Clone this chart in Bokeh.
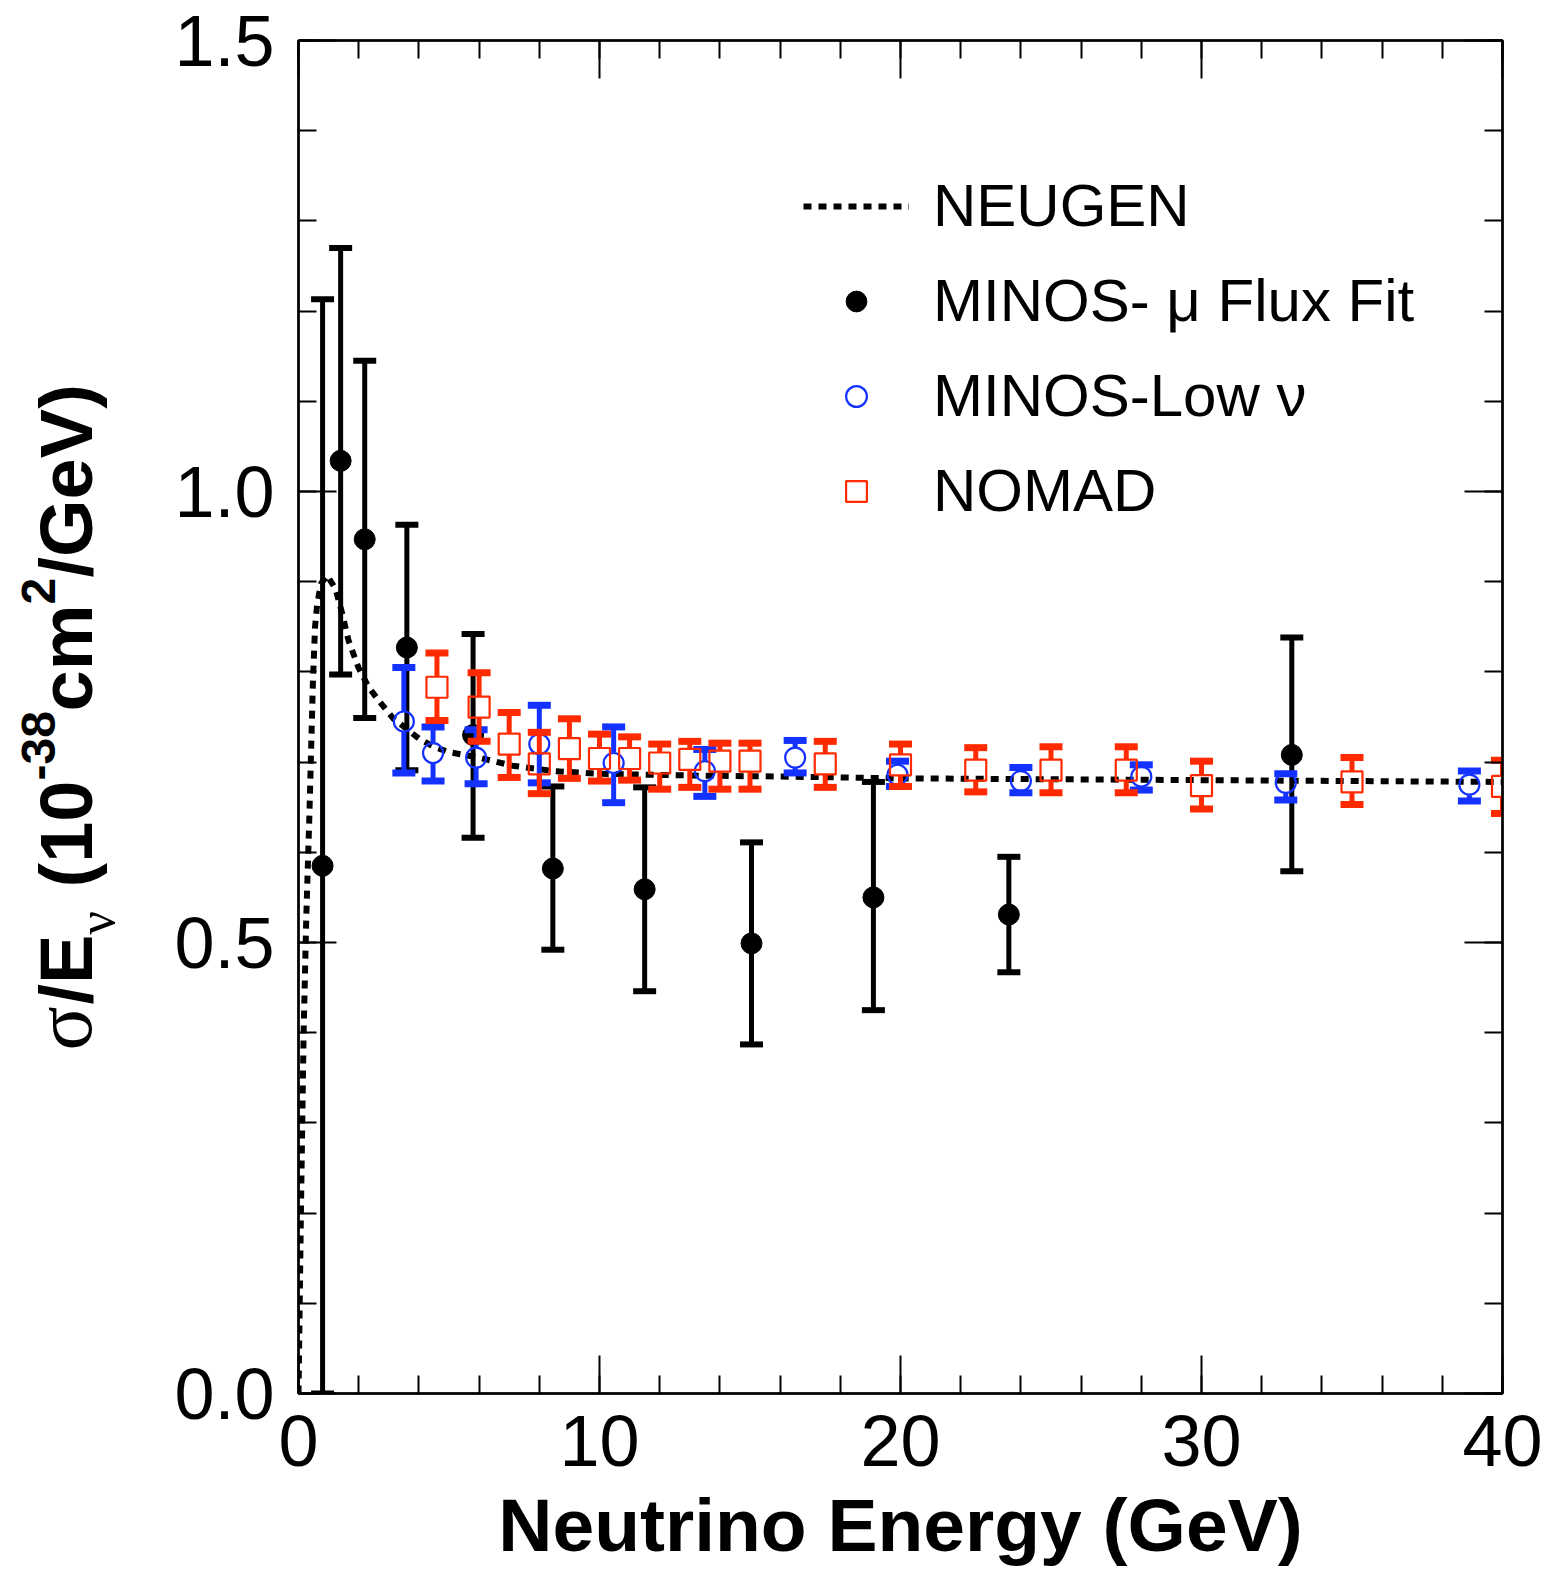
from bokeh.plotting import figure
from bokeh.layouts import row
from bokeh.models import (LinearAxis, SingleIntervalTicker, PrintfTickFormatter,
                          Legend, LegendItem, Range1d)
from bokeh.core.properties import value
from bokeh.embed import file_html
from bokeh.resources import INLINE

# ---------------- data ----------------
# NEUGEN prediction (dotted curve)
neugen_E = [0.0, 0.08, 0.17, 0.26, 0.36, 0.48, 0.55, 0.62, 0.75, 0.95, 1.23, 1.45, 1.66,
            1.99, 2.33, 2.72, 3.16, 3.55, 4.0, 4.5, 5.0, 6.0, 7.1, 8.5, 10.0, 13.3, 16.0,
            20.0, 25.0, 30.0, 35.0, 40.0]
neugen_y = [0.0, 0.20, 0.40, 0.53, 0.639, 0.79, 0.85, 0.875, 0.898, 0.907, 0.892, 0.865,
            0.835, 0.805, 0.783, 0.766, 0.748, 0.738, 0.726, 0.717, 0.711, 0.705, 0.696,
            0.690, 0.687, 0.685, 0.684, 0.682, 0.681, 0.680, 0.679, 0.678]

# MINOS - mu flux fit (black filled circles)
mu_E = [0.8, 1.4, 2.2, 3.6, 5.8, 8.45, 11.5, 15.05, 19.1, 23.6, 33.0]
mu_y = [0.585, 1.034, 0.947, 0.827, 0.730, 0.582, 0.559, 0.499, 0.550, 0.531, 0.708]
mu_hi = [1.213, 1.270, 1.145, 0.963, 0.842, 0.673, 0.672, 0.611, 0.678, 0.595, 0.838]
mu_lo = [0.000, 0.797, 0.749, 0.691, 0.616, 0.492, 0.446, 0.387, 0.425, 0.467, 0.579]

# MINOS - Low nu (blue open circles)
lown_E = [3.5, 4.47, 5.9, 8.0, 10.47, 13.5, 16.5, 19.9, 24.0, 28.0, 32.8, 38.9]
lown_y = [0.745, 0.710, 0.705, 0.720, 0.699, 0.690, 0.705, 0.686, 0.679, 0.684, 0.677, 0.675]
lown_hi = [0.805, 0.739, 0.736, 0.763, 0.739, 0.714, 0.724, 0.701, 0.694, 0.697, 0.687, 0.690]
lown_lo = [0.688, 0.679, 0.676, 0.677, 0.655, 0.662, 0.688, 0.673, 0.666, 0.669, 0.658, 0.657]

# NOMAD (red open squares)
nomad_E = [4.6, 6.0, 7.0, 8.0, 9.0, 10.0, 11.0, 12.0, 13.0, 14.0, 15.0, 17.5, 20.0, 22.5,
           25.0, 27.5, 30.0, 35.0, 40.0]
nomad_y = [0.783, 0.761, 0.720, 0.698, 0.715, 0.704, 0.704, 0.699, 0.703, 0.701, 0.701,
           0.698, 0.697, 0.691, 0.691, 0.691, 0.674, 0.678, 0.673]
nomad_hi = [0.821, 0.799, 0.755, 0.733, 0.748, 0.731, 0.728, 0.720, 0.723, 0.721, 0.721,
            0.723, 0.720, 0.716, 0.717, 0.717, 0.701, 0.705, 0.702]
nomad_lo = [0.746, 0.723, 0.683, 0.665, 0.682, 0.679, 0.680, 0.670, 0.672, 0.670, 0.670,
            0.672, 0.673, 0.667, 0.666, 0.666, 0.648, 0.653, 0.643]

legend_labels = ["NEUGEN", "MINOS- \u03bc Flux Fit", "MINOS-Low \u03bd", "NOMAD"]
x_title = "Neutrino Energy (GeV)"
x_ticks_interval = 10
y_ticks_interval = 0.5

BLACK = "black"
BLUE = "#1432FF"
RED = "#FF2A00"
SANS = "Liberation Sans"
SERIF = "Liberation Serif"

# ---------------- geometry ----------------
FW, FH = 1204, 1353
TOP, BOTTOM, RIGHT = 40, 179, 56
LEFT_W = 150
CH = TOP + FH + BOTTOM

# ---------------- main figure ----------------
p = figure(frame_width=FW, frame_height=FH, x_range=Range1d(0, 40), y_range=Range1d(0, 1.5),
           output_backend="svg", toolbar_location=None,
           min_border_left=298 - LEFT_W, min_border_right=RIGHT, min_border_top=TOP,
           min_border_bottom=BOTTOM)
p.xgrid.visible = False
p.ygrid.visible = False
p.outline_line_color = "black"
p.outline_line_width = 2
p.background_fill_color = "white"
p.border_fill_color = "white"


def style_axis(ax, labels=True):
    ax.axis_line_width = 2.5
    ax.axis_line_color = "black"
    ax.major_tick_in = 38
    ax.major_tick_out = 0
    ax.minor_tick_in = 18
    ax.minor_tick_out = 0
    ax.major_tick_line_width = 2
    ax.minor_tick_line_width = 2
    ax.major_tick_line_color = "black"
    ax.minor_tick_line_color = "black"
    if labels:
        ax.major_label_text_font = SANS
        ax.major_label_text_font_size = "72px"
        ax.major_label_text_color = "black"
    else:
        ax.major_label_text_font_size = "1px"
        ax.major_label_text_alpha = 0
        ax.major_label_standoff = 0


xa = p.xaxis[0]
xa.ticker = SingleIntervalTicker(interval=x_ticks_interval, num_minor_ticks=5)
style_axis(xa)
xa.major_label_standoff = 22
xa.axis_label = x_title
xa.axis_label_text_font = SANS
xa.axis_label_text_font_style = "bold"
xa.axis_label_text_font_size = "75px"
xa.axis_label_text_color = "black"
xa.axis_label_standoff = 14

ya = p.yaxis[0]
ya.ticker = SingleIntervalTicker(interval=y_ticks_interval, num_minor_ticks=5)
ya.formatter = PrintfTickFormatter(format="%.1f")
style_axis(ya)
ya.major_label_standoff = 24

top = LinearAxis(ticker=SingleIntervalTicker(interval=x_ticks_interval, num_minor_ticks=5))
style_axis(top, labels=False)
p.add_layout(top, "above")
right = LinearAxis(ticker=SingleIntervalTicker(interval=y_ticks_interval, num_minor_ticks=5))
style_axis(right, labels=False)
p.add_layout(right, "right")

# ---------------- glyphs ----------------
px_per_y = FH / 1.5

# black: MINOS mu flux fit
p.segment(mu_E, mu_lo, mu_E, mu_hi, line_color=BLACK, line_width=5)
p.scatter(mu_E, mu_hi, marker="dash", size=23, line_width=6, line_color=BLACK)
p.scatter(mu_E, mu_lo, marker="dash", size=23, line_width=6, line_color=BLACK)
r_mu = p.scatter(mu_E, mu_y, marker="circle", size=21, fill_color=BLACK, line_color=BLACK)

# NEUGEN curve
r_neu = p.line(neugen_E, neugen_y, line_color=BLACK, line_width=6, line_dash="8 7")

# blue: MINOS low nu
gb = 10.5 / px_per_y
p.segment(lown_E, [v + gb for v in lown_y], lown_E, lown_hi, line_color=BLUE, line_width=5)
p.segment(lown_E, lown_lo, lown_E, [v - gb for v in lown_y], line_color=BLUE, line_width=5)
p.scatter(lown_E, lown_hi, marker="dash", size=23, line_width=7, line_color=BLUE)
p.scatter(lown_E, lown_lo, marker="dash", size=23, line_width=7, line_color=BLUE)
r_low = p.scatter(lown_E, lown_y, marker="circle", size=20, fill_color=None,
                  line_color=BLUE, line_width=2.2)

# red: NOMAD
gr = 10.5 / px_per_y
p.segment(nomad_E, [v + gr for v in nomad_y], nomad_E, nomad_hi, line_color=RED, line_width=5)
p.segment(nomad_E, nomad_lo, nomad_E, [v - gr for v in nomad_y], line_color=RED, line_width=5)
p.scatter(nomad_E, nomad_hi, marker="dash", size=23, line_width=7, line_color=RED)
p.scatter(nomad_E, nomad_lo, marker="dash", size=23, line_width=7, line_color=RED)
r_nom = p.scatter(nomad_E, nomad_y, marker="square", size=21, fill_color=None,
                  line_color=RED, line_width=2.2)

# ---------------- legend ----------------
legend = Legend(items=[
    LegendItem(label=legend_labels[0], renderers=[r_neu]),
    LegendItem(label=legend_labels[1], renderers=[r_mu]),
    LegendItem(label=legend_labels[2], renderers=[r_low]),
    LegendItem(label=legend_labels[3], renderers=[r_nom]),
], location=(505, 868))
legend.label_text_font = SANS
legend.label_text_font_size = "60px"
legend.label_text_color = "black"
legend.glyph_width = 106
legend.glyph_height = 52
legend.label_height = 60
legend.spacing = 26
legend.padding = 0
legend.margin = 0
legend.label_standoff = 24
legend.border_line_color = None
legend.background_fill_alpha = 0
p.add_layout(legend)

# ---------------- y-axis title (composite, rotated) in a narrow side figure ----------------
# side figure frame is aligned with the main frame: data y = pixels from the page bottom
t = figure(frame_width=LEFT_W, frame_height=FH,
           x_range=Range1d(0, LEFT_W), y_range=Range1d(BOTTOM, BOTTOM + FH),
           output_backend="svg", toolbar_location=None, x_axis_type=None, y_axis_type=None,
           min_border_left=0, min_border_right=0, min_border_top=TOP,
           min_border_bottom=BOTTOM)
t.xgrid.visible = False
t.ygrid.visible = False
t.outline_line_color = None
t.background_fill_color = "white"
t.border_fill_color = "white"

ang = 1.5707963
frags = [
    # text, font, style, size (px), baseline x (px), start y (px from top)
    ("\u03c3", SERIF, "normal", 82, 97, 1050),
    ("/E", SANS, "bold", 74, 97, 1004),
    ("\u03bd", SERIF, "normal", 52, 118, 934),
    ("(10", SANS, "bold", 74, 97, 887),
    ("-38", SANS, "bold", 48, 58, 780),
    ("cm", SANS, "bold", 74, 97, 711),
    ("2", SANS, "bold", 48, 58, 604),
    ("/GeV)", SANS, "bold", 74, 97, 577),
]
for txt, f, st, sz, bx, sy in frags:
    t.text(x=[bx - 0.42 * sz], y=[CH - sy], text=[txt], angle=ang, text_font=value(f),
           text_font_style=st, text_font_size=f"{sz}px", text_color="black",
           text_align="left", text_baseline="alphabetic")

layout = row(t, p, spacing=0)
open("out.html", "w").write(file_html(layout, INLINE))
